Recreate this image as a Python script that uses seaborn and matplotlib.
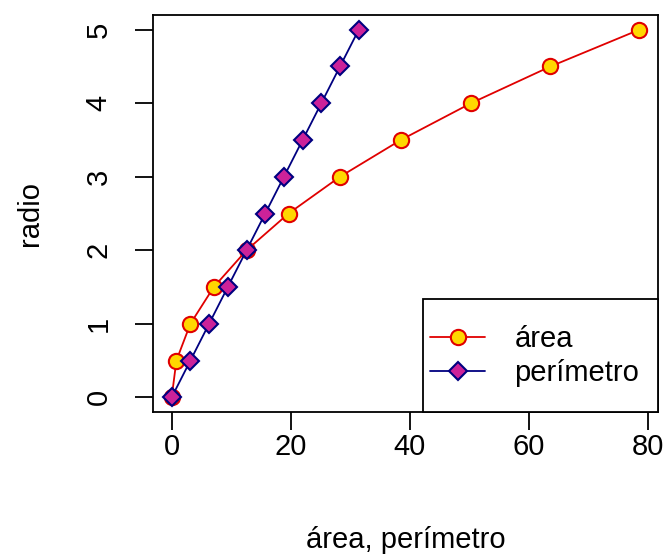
import matplotlib
matplotlib.use("Agg")
import matplotlib.pyplot as plt
import seaborn as sns
from matplotlib.patches import Rectangle

# values
radio = [0, 0.5, 1, 1.5, 2, 2.5, 3, 3.5, 4, 4.5, 5]
area = [0, 0.79, 3.14, 7.07, 12.57, 19.63, 28.27, 38.48, 50.27, 63.62, 78.54]
perimetro = [0, 3.14, 6.28, 9.42, 12.57, 15.71, 18.85, 21.99, 25.13, 28.27, 31.42]
x_ticks = [0, 20, 40, 60, 80]
y_ticks = [0, 1, 2, 3, 4, 5]

sns.set_style("white")
plt.rcParams['font.family'] = ['Liberation Sans', 'DejaVu Sans']
plt.rcParams['text.color'] = 'black'
plt.rcParams['axes.labelcolor'] = 'black'
plt.rcParams['xtick.color'] = 'black'
plt.rcParams['ytick.color'] = 'black'

LW = 1.3
FS = 21

fig = plt.figure(figsize=(6.7, 5.59), dpi=100)
ax = fig.add_axes([153 / 670, 1 - 412 / 559, 505 / 670, 397 / 559])

sns.lineplot(x=area, y=radio, ax=ax, color='#E00000', lw=LW, marker='o',
             markersize=11, markerfacecolor='#FFD700', markeredgecolor='#E00000',
             markeredgewidth=1.5, label='área')
sns.lineplot(x=perimetro, y=radio, ax=ax, color='#000080', lw=LW, marker='D',
             markersize=9, markerfacecolor='#CC2299', markeredgecolor='#000080',
             markeredgewidth=1.5, label='perímetro')

ax.set_xlim(-3.14, 81.68)
ax.set_ylim(-0.2, 5.2)
ax.set_xticks(x_ticks)
ax.set_yticks(y_ticks)
ax.set_yticklabels([str(v) for v in y_ticks], rotation=90, va='center')
ax.tick_params(axis='both', direction='out', length=13, width=LW, labelsize=FS,
               color='black', labelcolor='black', bottom=True, left=True)
ax.tick_params(axis='x', pad=2)
ax.tick_params(axis='y', pad=16)
for s in ax.spines.values():
    s.set_color('black')
    s.set_linewidth(LW)

ax.set_xlabel('área, perímetro', fontsize=FS, va='center', color='black')
ax.xaxis.set_label_coords(0.5, (412 - 540) / 397)
ax.set_ylabel('radio', fontsize=FS, va='center', color='black')
ax.yaxis.set_label_coords((30 - 153) / 505, 0.5)

# legend box in the lower right corner
ax.add_patch(Rectangle((0.5347, 0), 1 - 0.5347, 0.2846, transform=ax.transAxes,
                       fill=True, facecolor='white', edgecolor='black', lw=LW,
                       zorder=5, clip_on=False))
leg = ax.legend(loc='center left', bbox_to_anchor=(0.5485, 0.141), frameon=False,
                fontsize=FS, borderpad=0, handlelength=1.9, handletextpad=1.0,
                labelspacing=0.2, borderaxespad=0)
leg.set_zorder(6)
for t in leg.get_texts():
    t.set_color('black')

fig.savefig('out.png', dpi=100, facecolor='white')
